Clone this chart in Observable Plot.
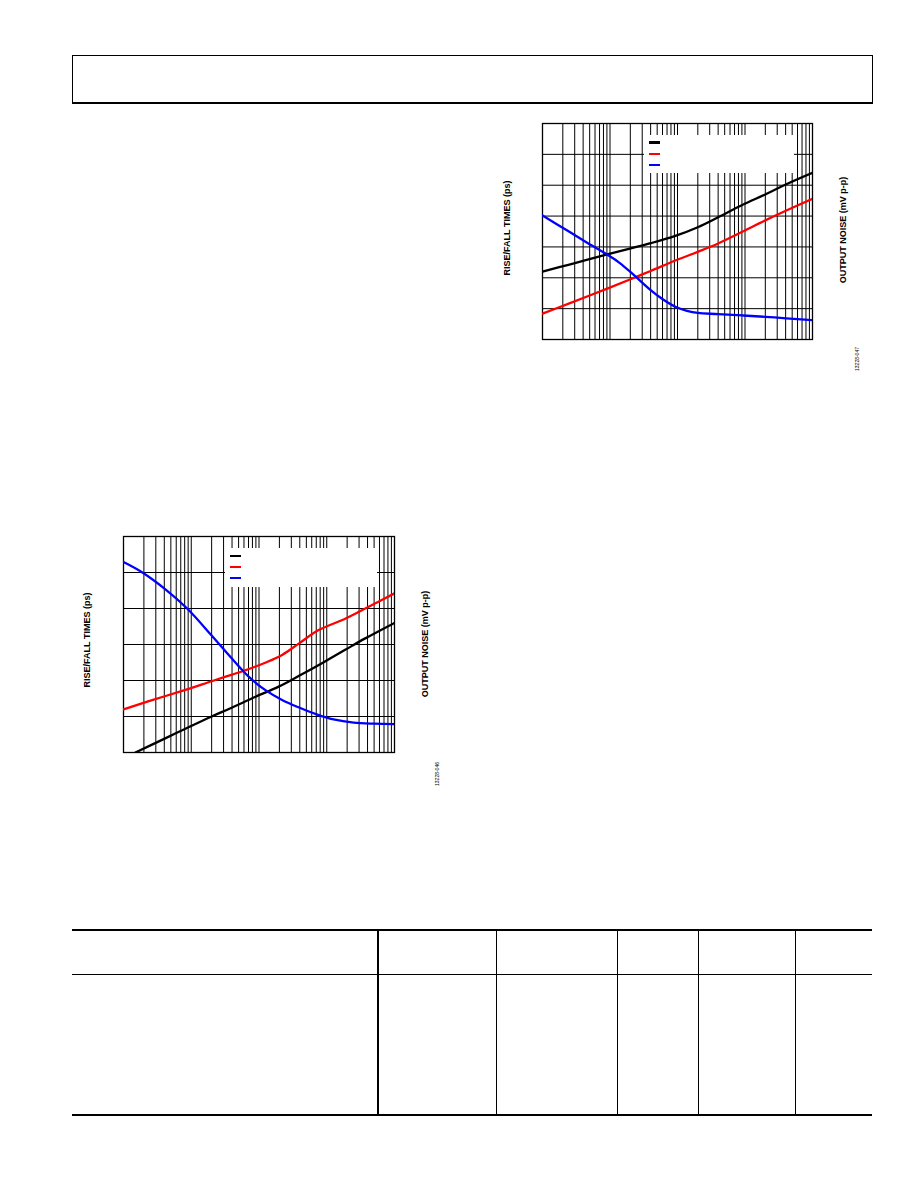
<!DOCTYPE html>
<html><head><meta charset="utf-8">
<script src="https://cdn.jsdelivr.net/npm/d3@7"></script>
<script src="https://cdn.jsdelivr.net/npm/@observablehq/plot@0.6"></script>
<style>
html,body{margin:0;padding:0;background:#fff;}
#page{position:relative;width:918px;height:1188px;overflow:hidden;background:#fff;font-family:"Liberation Sans",Arial,sans-serif;}
.blk{position:absolute;background:#000;}
.vtitle{position:absolute;white-space:nowrap;font-weight:bold;font-size:9px;line-height:1;color:#000;transform:translate(-50%,-50%) rotate(-90deg);}
.vid{position:absolute;white-space:nowrap;font-size:5px;line-height:1;color:#000;transform:translate(-50%,-50%) rotate(-90deg);}
.legend{position:absolute;background:#fff;}
.swatch{position:absolute;height:2.4px;width:11px;}
</style></head><body><div id="page"></div>
<script>
// ---------- shared ----------
const xDomain = [1, 10000];
const seriesColors = ["#000000", "#ff0000", "#0000ff"];

// ---------- Figure 13228-047 (upper right) ----------
const fig47Id = "13228-047";
const fig47LeftTitle = "RISE/FALL TIMES (ps)";
const fig47RightTitle = "OUTPUT NOISE (mV p-p)";
const fig47LeftDomain = [0, 70];
const fig47LeftGrid = [0, 10, 20, 30, 40, 50, 60, 70];
const fig47RightDomain = [0, 14];
const fig47X = [1, 2.5, 9.1, 21, 40, 93, 200, 400, 910, 2000, 4100, 10000];
const fig47Rise = [22.0, 24.3, 27.6, 29.6, 31.2, 33.6, 36.4, 39.6, 43.6, 47.0, 50.3, 54.0];
const fig47Fall = [8.4, 11.7, 16.5, 19.7, 22.2, 25.6, 28.4, 31.1, 34.9, 38.6, 41.8, 45.6];
const fig47NoiseX = [1, 2.5, 4.4, 9.1, 13.5, 21, 40, 59, 93, 138, 200, 400, 910, 2000, 4100, 10000];
const fig47Noise = [8.04, 6.98, 6.32, 5.50, 5.00, 4.30, 3.20, 2.64, 2.12, 1.86, 1.72, 1.65, 1.56, 1.47, 1.37, 1.25];

// ---------- Figure 13228-046 (lower left) ----------
const fig46Id = "13228-046";
const fig46LeftTitle = "RISE/FALL TIMES (ps)";
const fig46RightTitle = "OUTPUT NOISE (mV p-p)";
const fig46LeftDomain = [0, 60];
const fig46LeftGrid = [0, 10, 20, 30, 40, 50, 60];
const fig46RightDomain = [0, 12];
const fig46RiseX = [1.5, 4.2, 8.2, 20, 38, 89, 195, 390, 850, 1900, 3700, 10000];
const fig46Rise = [0, 4.0, 6.6, 10.0, 12.3, 15.5, 18.3, 21.3, 24.8, 28.6, 31.7, 36.0];
const fig46FallX = [1, 2.3, 8.2, 20, 38, 71, 126, 219, 390, 760, 1900, 3700, 10000];
const fig46Fall = [12.0, 14.2, 17.4, 19.8, 21.5, 23.2, 25.0, 27.1, 30.3, 34.0, 37.2, 40.0, 44.2];
const fig46NoiseX = [1, 1.9, 4.2, 8.7, 20, 38, 71, 126, 219, 390, 710, 1260, 2500, 5000, 10000];
const fig46Noise = [10.58, 10.0, 9.05, 8.0, 6.5, 5.3, 4.2, 3.45, 2.92, 2.50, 2.12, 1.84, 1.66, 1.60, 1.58];

// log grid ticks (1..9 per decade)
const xGridTicks = [];
for (let d = 1; d < 10000; d *= 10) for (let m = 1; m <= 9; m++) xGridTicks.push(m * d);
xGridTicks.push(10000);

const page = document.getElementById("page");
function add(el, css, cls) { if (cls) el.className = cls; Object.assign(el.style, css); page.appendChild(el); return el; }
function box(l, t, w, h) { return add(document.createElement("div"), {left: l + "px", top: t + "px", width: w + "px", height: h + "px"}, "blk"); }
function text(str, cx, cy, cls) { const d = document.createElement("div"); d.textContent = str; return add(d, {left: cx + "px", top: cy + "px"}, cls); }
const toRows = (xs, ys) => xs.map((x, i) => ({x, y: ys[i]}));

function chart(cfg) {
  const W = cfg.w + 2, H = cfg.h + 2;
  const common = {width: W, height: H, marginLeft: 1, marginRight: 1, marginTop: 1, marginBottom: 1,
    x: {type: "log", domain: xDomain, axis: null}};
  const base = Plot.plot({...common,
    style: "background: transparent; overflow: visible;",
    y: {domain: cfg.leftDomain, axis: null},
    marks: [
      Plot.ruleX(xGridTicks, {stroke: "#000", strokeWidth: 1}),
      Plot.ruleY(cfg.leftGrid, {stroke: "#000", strokeWidth: 1}),
      Plot.frame({stroke: "#000", strokeWidth: 1.3}),
      Plot.line(toRows(cfg.riseX, cfg.rise), {x: "x", y: "y", stroke: seriesColors[0], strokeWidth: 2.3, curve: "catmull-rom", clip: true}),
      Plot.line(toRows(cfg.fallX, cfg.fall), {x: "x", y: "y", stroke: seriesColors[1], strokeWidth: 2.3, curve: "catmull-rom", clip: true})
    ]});
  const over = Plot.plot({...common,
    style: "background: transparent; overflow: visible;",
    y: {domain: cfg.rightDomain, axis: null},
    marks: [
      Plot.line(toRows(cfg.noiseX, cfg.noise), {x: "x", y: "y", stroke: seriesColors[2], strokeWidth: 2.3, curve: "catmull-rom", clip: true})
    ]});
  add(base, {position: "absolute", left: (cfg.left - 1) + "px", top: (cfg.top - 1) + "px"});
  const lg = cfg.legend;
  add(document.createElement("div"), {left: lg.l + "px", top: lg.t + "px", width: lg.w + "px", height: lg.h + "px"}, "legend");
  seriesColors.forEach((c, i) => add(document.createElement("div"), {left: lg.sx + "px", top: (lg.sy + i * lg.dy - 1.2) + "px", background: c}, "swatch"));
  add(over, {position: "absolute", left: (cfg.left - 1) + "px", top: (cfg.top - 1) + "px"});
  text(cfg.leftTitle, cfg.lt[0], cfg.lt[1], "vtitle");
  text(cfg.rightTitle, cfg.rt[0], cfg.rt[1], "vtitle");
  text(cfg.id, cfg.idp[0], cfg.idp[1], "vid");
}

// header box
add(document.createElement("div"), {position: "absolute", left: "72px", top: "55px", width: "799px", height: "46px",
  borderTop: "1px solid #000", borderLeft: "1px solid #000", borderRight: "1px solid #000", borderBottom: "2px solid #000"});

chart({left: 542, top: 123, w: 270, h: 216,
  leftDomain: fig47LeftDomain, leftGrid: fig47LeftGrid, rightDomain: fig47RightDomain,
  riseX: fig47X, rise: fig47Rise, fallX: fig47X, fall: fig47Fall, noiseX: fig47NoiseX, noise: fig47Noise,
  legend: {l: 644, t: 135, w: 150, h: 38, sx: 649, sy: 142.5, dy: 11.2},
  leftTitle: fig47LeftTitle, rightTitle: fig47RightTitle, id: fig47Id,
  lt: [507, 228], rt: [843, 230], idp: [857, 359]});

chart({left: 123, top: 536, w: 271, h: 216,
  leftDomain: fig46LeftDomain, leftGrid: fig46LeftGrid, rightDomain: fig46RightDomain,
  riseX: fig46RiseX, rise: fig46Rise, fallX: fig46FallX, fall: fig46Fall, noiseX: fig46NoiseX, noise: fig46Noise,
  legend: {l: 225, t: 548, w: 152, h: 39, sx: 230, sy: 555.7, dy: 11},
  leftTitle: fig46LeftTitle, rightTitle: fig46RightTitle, id: fig46Id,
  lt: [87, 640], rt: [425, 644], idp: [437, 774]});

// table outline
box(72, 929, 800, 1.5);
box(72, 973.5, 800, 1.5);
box(72, 1114, 800, 1.5);
box(377, 929, 2, 186);
[496, 617, 698, 795].forEach(x => box(x, 929, 1, 186));
</script>
</body></html>
